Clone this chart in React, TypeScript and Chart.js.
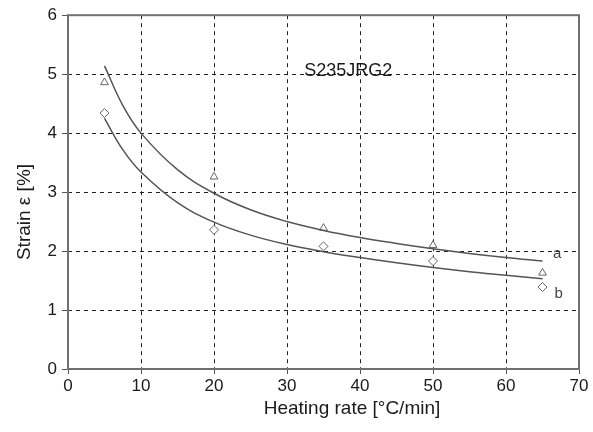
import React, { useEffect, useRef } from "react";
import { Chart, registerables } from "chart.js";

Chart.register(...registerables);

const pointX = [5, 20, 35, 50, 65];
const pointsA = [4.86, 3.26, 2.39, 2.1, 1.63];
const pointsB = [4.34, 2.36, 2.08, 1.83, 1.39];

const curveX = [5, 7.5, 10, 15, 20, 25, 30, 35, 40, 45, 50, 55, 60, 65];
const curveA = [5.14, 4.47, 4.0, 3.38, 2.98, 2.7, 2.5, 2.35, 2.23, 2.13, 2.04, 1.96, 1.89, 1.83];
const curveB = [4.25, 3.72, 3.34, 2.82, 2.49, 2.27, 2.11, 1.99, 1.89, 1.8, 1.72, 1.65, 1.59, 1.53];

const xTicks = [0, 10, 20, 30, 40, 50, 60, 70];
const yTicks = [0, 1, 2, 3, 4, 5, 6];

const annotationText = "S235JRG2";
const annotationPos = { x: 38.4, y: 5.05 };
const curveLabels = [
  { text: "a", x: 67.0, y: 1.95 },
  { text: "b", x: 67.2, y: 1.27 },
];
const xTitle = "Heating rate [°C/min]";
const yTitle = "Strain ε [%]";

const FONT = "'Liberation Sans', Arial, sans-serif";

export default function App() {
  const ref = useRef<HTMLCanvasElement | null>(null);

  useEffect(() => {
    if (!ref.current) return;
    const zip = (xs: number[], ys: number[]) => xs.map((x, i) => ({ x, y: ys[i] }));

    const extras = {
      id: "extras",
      afterDraw(chart: any) {
        const { ctx, chartArea, scales } = chart;
        ctx.save();
        ctx.strokeStyle = "#707070";
        ctx.lineWidth = 2;
        ctx.setLineDash([]);
        ctx.strokeRect(chartArea.left, chartArea.top, chartArea.right - chartArea.left, chartArea.bottom - chartArea.top);
        ctx.fillStyle = "#1a1a1a";
        ctx.font = `18px ${FONT}`;
        ctx.textAlign = "center";
        ctx.textBaseline = "middle";
        ctx.fillText(annotationText, scales.x.getPixelForValue(annotationPos.x), scales.y.getPixelForValue(annotationPos.y));
        ctx.font = `15px ${FONT}`;
        ctx.fillStyle = "#444";
        for (const l of curveLabels) {
          ctx.fillText(l.text, scales.x.getPixelForValue(l.x), scales.y.getPixelForValue(l.y));
        }
        ctx.fillStyle = "#1a1a1a";
        ctx.font = `19px ${FONT}`;
        ctx.fillText(xTitle, 352, 409);
        ctx.translate(25, 212);
        ctx.rotate(-Math.PI / 2);
        ctx.fillText(yTitle, 0, 0);
        ctx.restore();
      },
    };

    const gridColor = (ctx: any) => {
      const v = ctx.tick ? ctx.tick.value : null;
      const scale = ctx.scale;
      if (v === scale.min || v === scale.max) return "rgba(0,0,0,0)";
      return "#222";
    };

    const chart = new Chart(ref.current, {
      type: "scatter",
      data: {
        datasets: [
          {
            label: "curve a",
            data: zip(curveX, curveA),
            showLine: true,
            borderColor: "#555",
            borderWidth: 1.5,
            pointRadius: 0,
            tension: 0.4,
          },
          {
            label: "curve b",
            data: zip(curveX, curveB),
            showLine: true,
            borderColor: "#555",
            borderWidth: 1.5,
            pointRadius: 0,
            tension: 0.4,
          },
          {
            label: "a",
            data: zip(pointX, pointsA),
            pointStyle: "triangle",
            pointRadius: 4.5,
            pointBorderWidth: 1,
            pointBorderColor: "#666",
            pointBackgroundColor: "#fff",
          },
          {
            label: "b",
            data: zip(pointX, pointsB),
            pointStyle: "rectRot",
            pointRadius: 4.5,
            pointBorderWidth: 1,
            pointBorderColor: "#666",
            pointBackgroundColor: "#fff",
          },
        ],
      } as any,
      options: {
        animation: false,
        responsive: false,
        maintainAspectRatio: false,
        layout: { padding: { top: 15, right: 14, left: 0, bottom: 0 } },
        plugins: { legend: { display: false }, tooltip: { enabled: false } },
        scales: {
          x: {
            type: "linear",
            min: 0,
            max: 70,
            afterBuildTicks: (s: any) => {
              s.ticks = xTicks.map((v) => ({ value: v }));
            },
            afterFit: (s: any) => {
              s.height = 63;
            },
            ticks: { color: "#1a1a1a", font: { size: 17, family: FONT }, padding: 2, maxRotation: 0 },
            grid: {
              color: gridColor,
              lineWidth: 1,
              tickLength: 5,
              tickColor: "#555",
              tickWidth: 1,
              tickBorderDash: [],
            } as any,
            border: { display: false, dash: [4, 4] },
          },
          y: {
            type: "linear",
            min: 0,
            max: 6,
            afterBuildTicks: (s: any) => {
              s.ticks = yTicks.map((v) => ({ value: v }));
            },
            afterFit: (s: any) => {
              s.width = 68;
            },
            ticks: { color: "#1a1a1a", font: { size: 17, family: FONT }, padding: 5 },
            grid: {
              color: gridColor,
              lineWidth: 1,
              tickLength: 6,
              tickColor: "#555",
              tickWidth: 1,
              tickBorderDash: [],
            } as any,
            border: { display: false, dash: [4, 4] },
          },
        },
      } as any,
      plugins: [extras],
    });
    return () => chart.destroy();
  }, []);

  return (
    <div style={{ position: "fixed", left: 0, top: 0, width: 593, height: 432, background: "#fff" }}>
      <canvas ref={ref} width={593} height={432} style={{ width: 593, height: 432 }} />
    </div>
  );
}
